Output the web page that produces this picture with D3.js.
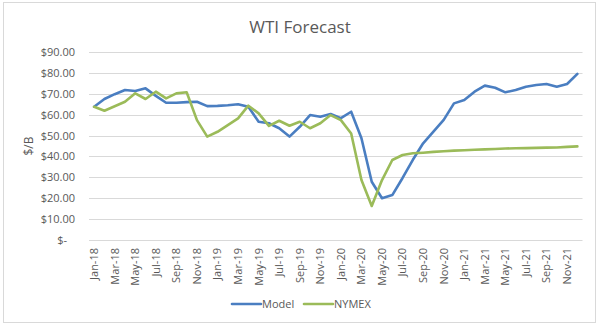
<!DOCTYPE html>
<html>
<head>
<meta charset="utf-8">
<script src="https://cdn.jsdelivr.net/npm/d3@7"></script>
<style>
  html, body { margin: 0; padding: 0; background: #fff; }
  svg { display: block; }
  text { font-family: "Open Sans", "Liberation Sans", sans-serif; fill: #595959; }
</style>
</head>
<body>
<svg id="chart" width="599" height="327"></svg>
<script>
const months = ["Jan","Feb","Mar","Apr","May","Jun","Jul","Aug","Sep","Oct","Nov","Dec"];
const years = ["18","19","20","21"];
const categories = [];
years.forEach(y => months.forEach(m => categories.push(m + "-" + y)));

const modelValues = [
  63.8, 67.5, 69.8, 71.8, 71.3, 72.6, 69.0, 65.7, 65.7, 66.0, 66.2, 64.1,
  64.2, 64.5, 65.0, 63.8, 56.6, 55.9, 53.5, 49.5, 54.2, 59.8, 59.0, 60.3,
  58.3, 61.4, 48.7, 27.9, 20.0, 21.5, 29.7, 38.4, 46.3, 51.9, 57.5, 65.4,
  67.0, 71.0, 73.9, 72.9, 70.7, 71.8, 73.4, 74.2, 74.7, 73.4, 74.7, 79.5
];
const nymexValues = [
  63.8, 61.9, 64.0, 66.2, 70.2, 67.5, 71.0, 67.8, 70.2, 70.7, 57.4, 49.5,
  51.8, 55.0, 58.2, 64.3, 60.6, 54.6, 57.1, 54.7, 56.6, 53.5, 55.9, 59.8,
  57.4, 51.0, 28.7, 16.3, 28.7, 38.3, 40.7, 41.5, 41.8, 42.2, 42.5, 42.8,
  43.0, 43.2, 43.4, 43.6, 43.8, 43.9, 44.0, 44.1, 44.2, 44.3, 44.6, 44.8
];
const yTicks = [0, 10, 20, 30, 40, 50, 60, 70, 80, 90];
const seriesNames = ["Model", "NYMEX"];
const seriesColors = ["#4A7EC1", "#9BBB59"];

const svg = d3.select("#chart");
const W = 599, H = 327;

// outer border
svg.append("rect").attr("x", 3.5).attr("y", 2.5).attr("width", 592).attr("height", 320)
  .attr("fill", "#fff").attr("stroke", "#d9d9d9").attr("stroke-width", 1);

const plot = { left: 89, right: 582.5, top: 52, bottom: 240 };

const x = d3.scaleBand().domain(categories).range([plot.left, plot.right]);
const y = d3.scaleLinear().domain([0, 90]).range([plot.bottom, plot.top]);

// title
svg.append("text").attr("x", 300).attr("y", 33).attr("text-anchor", "middle")
  .style("font-size", "17px").text("WTI Forecast");

// gridlines
svg.append("g").selectAll("line").data(yTicks).join("line")
  .attr("x1", plot.left).attr("x2", plot.right)
  .attr("y1", d => Math.round(y(d)) + 0.5).attr("y2", d => Math.round(y(d)) + 0.5)
  .attr("stroke", "#d9d9d9").attr("stroke-width", 1);

// y axis
const yAxis = d3.axisLeft(y).tickValues(yTicks).tickSize(0).tickPadding(0)
  .tickFormat(d => d === 0 ? "$-" : "$" + d3.format(".2f")(d));
const gy = svg.append("g").attr("transform", `translate(${plot.left - 14},0)`).call(yAxis);
gy.select(".domain").remove();
gy.selectAll("text").style("font-size", "11px").style("fill", "#595959")
  .attr("font-family", null).attr("dx", d => d === 0 ? "-8px" : "0");

// y title
svg.append("text").attr("transform", "translate(33,146) rotate(-90)")
  .attr("text-anchor", "middle").style("font-size", "12px").text("$/B");

// x axis
const xAxis = d3.axisBottom(x)
  .tickValues(categories.filter((d, i) => i % 2 === 0))
  .tickSize(0).tickPadding(0);
const gx = svg.append("g").attr("transform", `translate(0,${plot.bottom})`).call(xAxis);
gx.select(".domain").remove();
gx.selectAll("text").style("font-size", "11px").style("fill", "#595959")
  .attr("font-family", null)
  .attr("transform", "rotate(-90)")
  .attr("text-anchor", "end").attr("dy", "0.35em").attr("y", 0).attr("x", -8);

// lines
const line = d3.line().x((d, i) => x(categories[i]) + x.bandwidth() / 2).y(d => y(d));
[modelValues, nymexValues].forEach((vals, k) => {
  svg.append("path").datum(vals).attr("d", line)
    .attr("fill", "none").attr("stroke", seriesColors[k])
    .attr("stroke-width", 2.6).attr("stroke-linejoin", "round").attr("stroke-linecap", "round");
});

// legend
const legendItems = [{ x: 232, tx: 262 }, { x: 304, tx: 334 }];
seriesNames.forEach((name, k) => {
  const it = legendItems[k];
  svg.append("line").attr("x1", it.x).attr("x2", it.x + 29).attr("y1", 304).attr("y2", 304)
    .attr("stroke", seriesColors[k]).attr("stroke-width", 2.6).attr("stroke-linecap", "round");
  svg.append("text").attr("x", it.tx).attr("y", 304).attr("dy", "0.35em")
    .style("font-size", "11px").text(name);
});
</script>
</body>
</html>
